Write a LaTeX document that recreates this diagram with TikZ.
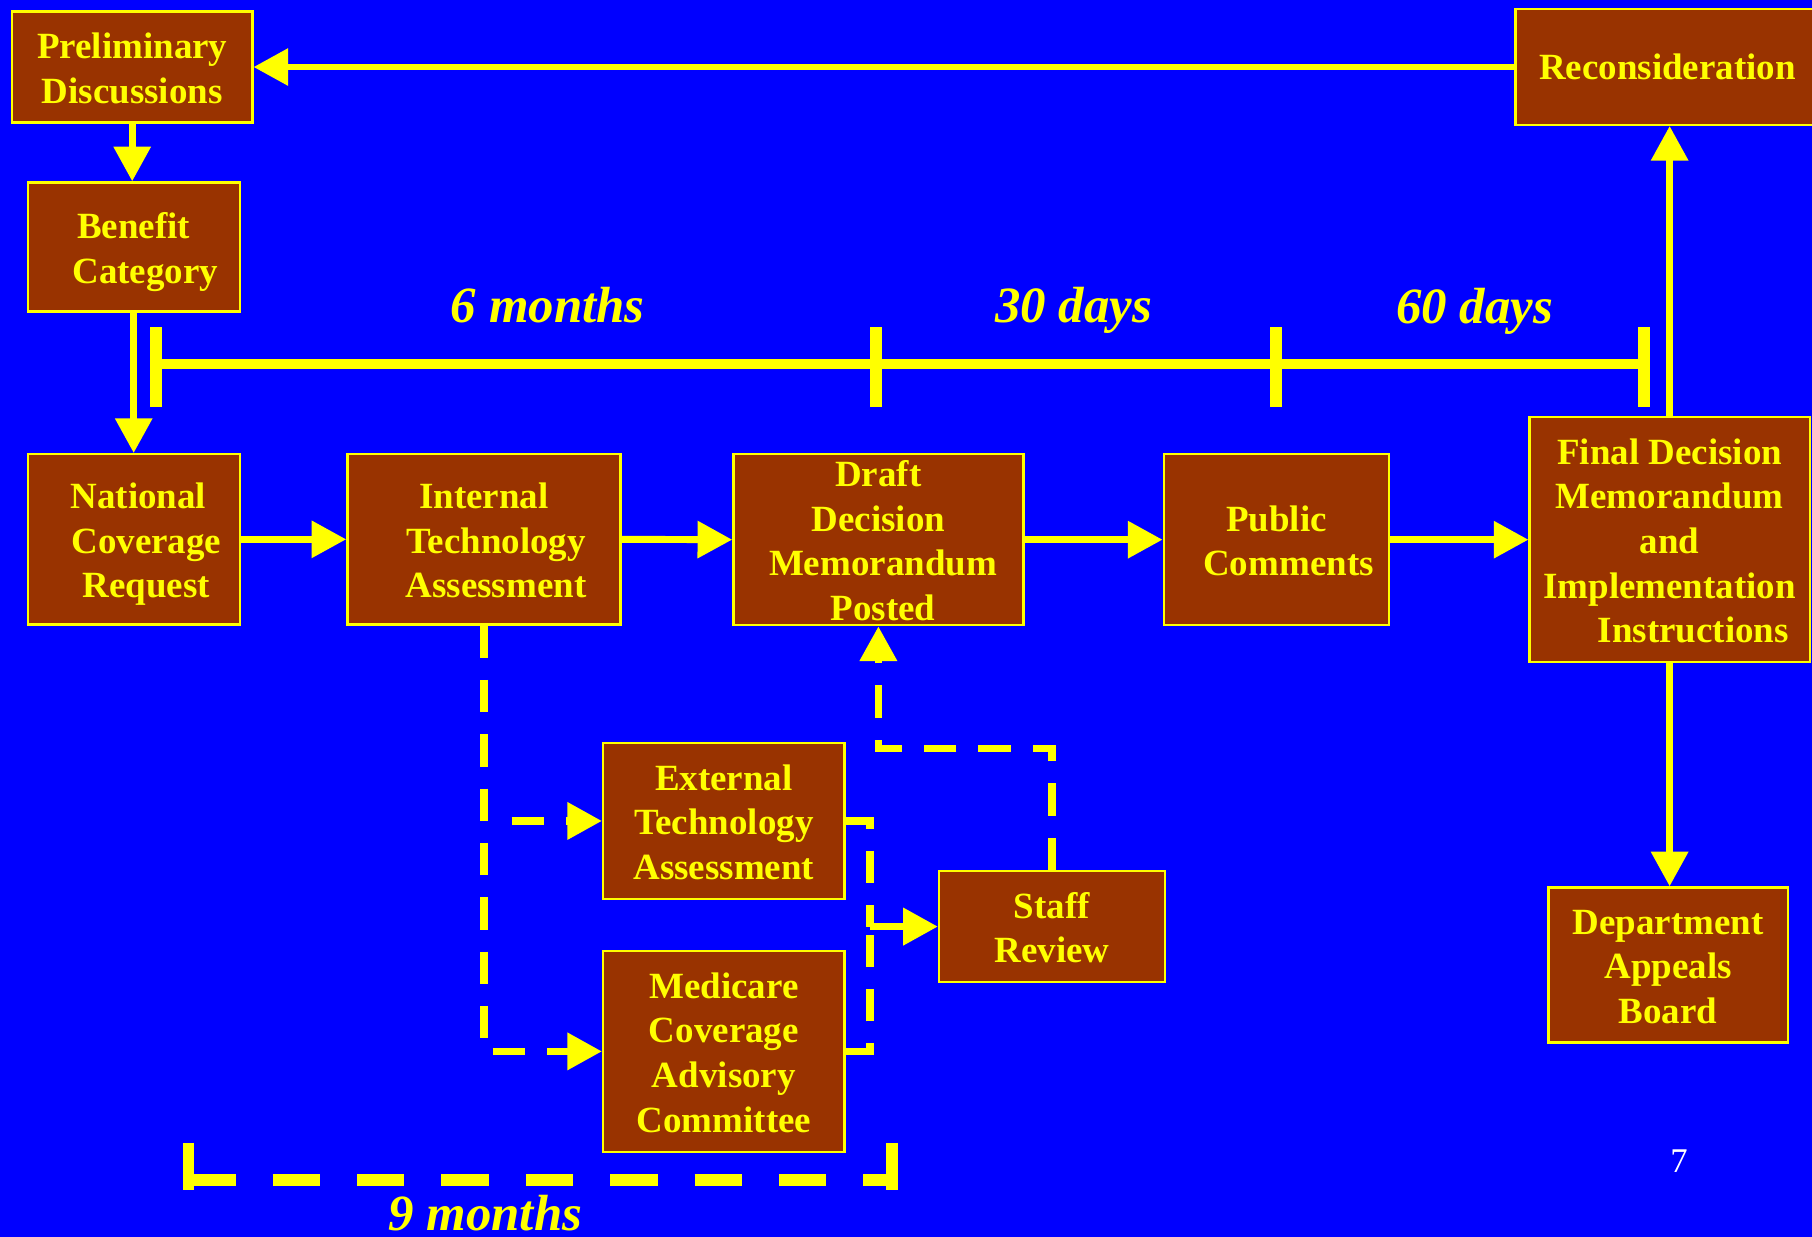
\documentclass[tikz,border=0pt]{standalone}
\usepackage{fontspec}
\setmainfont{Liberation Serif}
\usetikzlibrary{arrows.meta}
\definecolor{bg}{HTML}{0000FF}
\definecolor{boxfill}{HTML}{993300}
\definecolor{yel}{HTML}{FFFF00}
\newcommand{\tline}[2][0]{\makebox[0pt]{\raisebox{0pt}[28pt][4pt]{\kern#1pt\kern#1pt\relax #2}}}
\tikzset{
  box/.style={rectangle, draw=yel, line width=2pt, fill=boxfill, text=yel,
    font=\fontsize{32}{38.6}\selectfont\bfseries, align=center, inner sep=0pt},
  arr/.style={draw=yel, line width=6pt, -{Triangle[length=30pt,width=31pt]}},
  dsh/.style={draw=yel, line width=6.5pt, dash pattern=on 28pt off 19pt},
  dsharr/.style={dsh, -{Triangle[length=30pt,width=31pt]}},
  lbl/.style={text=yel, font=\fontsize{44}{50}\selectfont\bfseries\itshape, anchor=base, inner sep=0pt},
  tick/.style={draw=yel, line width=10pt},
}
\begin{document}
\begin{tikzpicture}[x=1pt,y=-1pt]
\useasboundingbox (0,0) rectangle (1568,1070);
\clip (0,0) rectangle (1568,1070);
\fill[bg] (0,0) rectangle (1568,1070);

% boxes
\node[box, minimum width=208pt, minimum height=96pt] (pre) at (114.4,58) {\tline{Preliminary}\\\tline{Discussions}};
\node[box, minimum width=268pt, minimum height=100pt] (rec) at (1445.5,58) {\makebox[0pt]{\kern-5pt Reconsideration}};
\node[box, minimum width=183.5pt, minimum height=111.6pt] (ben) at (115.7,213.7) {\tline{Benefit}\\\tline[10]{Category}};
\node[box, minimum width=183.5pt, minimum height=147.4pt] (nat) at (115.7,466.7) {\tline[4]{National}\\\tline[11]{Coverage}\\\tline[11]{Request}};
\node[box, minimum width=236.4pt, minimum height=147.4pt] (int) at (418.8,466.7) {\tline{Internal}\\\tline[10.5]{Technology}\\\tline[10.5]{Assessment}};
\node[box, minimum width=251pt, minimum height=148pt] (dra) at (760.1,467) {\tline{Draft}\\\tline{Decision}\\\tline[4]{Memorandum}\\\tline[4]{Posted}};
\node[box, minimum width=195pt, minimum height=148pt] (pub) at (1104.5,467) {\tline{Public}\\\tline[10.5]{Comments}};
\node[box, minimum width=242.4pt, minimum height=212pt] (fin) at (1444.8,467) {\tline{Final Decision}\\\tline{Memorandum}\\\tline{and}\\\tline{Implementation}\\\tline[20.5]{Instructions}};
\node[box, minimum width=207pt, minimum height=134pt] (dep) at (1443.5,835) {\tline{Department}\\\tline{Appeals}\\\tline{Board}};
\node[box, minimum width=209pt, minimum height=135pt] (ext) at (626.4,710.4) {\tline{External}\\\tline{Technology}\\\tline{Assessment}};
\node[box, minimum width=209pt, minimum height=173.6pt] (med) at (626.4,909.8) {\tline{Medicare}\\\tline{Coverage}\\\tline{Advisory}\\\tline{Committee}};
\node[box, minimum width=195.4pt, minimum height=96pt] (sta) at (910.3,801.8) {\tline{Staff}\\\tline{Review}};

% solid connectors
\draw[arr] (rec.west) -- (pre.east);
\draw[arr] (pre.south) -- (pre.south |- ben.north);
\draw[arr] (ben.south) -- (ben.south |- nat.north);
\draw[arr] (nat.east) -- (int.west);
\draw[arr] (int.east) -- (dra.west);
\draw[arr] (dra.east) -- (pub.west);
\draw[arr] (pub.east) -- (fin.west);
\draw[arr] (fin.north) -- (fin.north |- rec.south);
\draw[arr] (fin.south) -- (fin.south |- dep.north);

% dashed connectors
\draw[dsharr] (int.south) -- (int.south |- med.west) -- (med.west);
\coordinate (b1) at ([xshift=24pt]int.south |- ext.west);
\draw[dsharr] (b1) -- (ext.west);
\coordinate (jn) at (753,801.8);
\draw[dsh] (ext.east) -| (jn);
\draw[dsh] (med.east) -| (jn);
\draw[dsharr] (jn) -- (sta.west);
\coordinate (c1) at (760.1,647.5);
\draw[dsharr] (sta.north) |- (c1) -- (dra.south);

% timeline
\coordinate (t0) at (135,315);
\coordinate (t1) at (758,315);
\coordinate (t2) at (1104,315);
\coordinate (t3) at (1422.5,315);
\draw[draw=yel, line width=9pt] (t0) -- (t3);
\foreach \t in {t0,t1,t2,t3} \draw[tick] (\t) ++(0,-32) -- ++(0,69);
\node[lbl] (l6m) at (474,279) {6 months};
\node[lbl] (l30) at (929,279) {30 days};
\node[lbl] (l60) at (1276,280) {60 days};

% 9 months bracket
\coordinate (m0) at (163,1021);
\coordinate (m1) at (772,1021);
\draw[tick] (163,989) -- (163,1030);
\draw[tick] (772,989) -- (772,1030);
\draw[draw=yel, line width=10.5pt, dash pattern=on 41pt off 32pt] (m0) -- (m1);
\node[lbl] (l9m) at (420,1065) {9 months};

% page number
\node[text=white, font=\fontsize{30}{36}\selectfont, anchor=base, inner sep=0pt] (pg) at (1453,1015) {7};
\end{tikzpicture}
\end{document}
